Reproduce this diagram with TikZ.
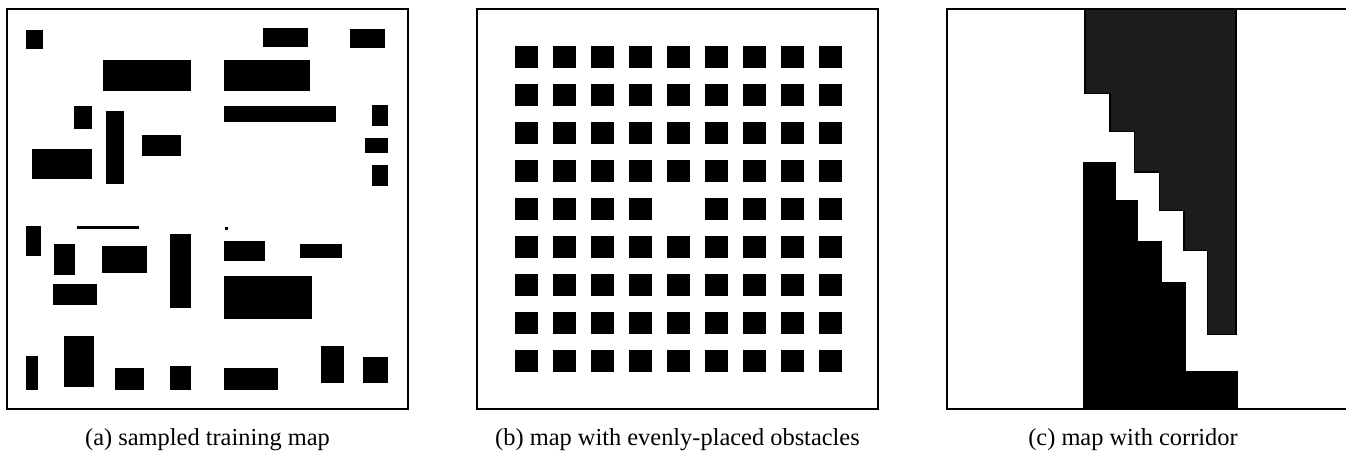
\documentclass[tikz,border=0pt]{standalone}
\usepackage{fontspec}
\setmainfont{Liberation Serif}
\usepackage{xcolor}
\usepackage{tikz}
\usetikzlibrary{positioning}
\definecolor{darkobst}{HTML}{1C1C1C}

\begin{document}
\begin{tikzpicture}[x=0.5pt, y=-0.5pt, font=\fontsize{12.2}{14}\selectfont,
  mapframe/.style={line width=1pt},
  obst/.style={fill=black},
  caption/.style={anchor=base, inner sep=0pt}]
  \useasboundingbox (0,0) rectangle (1346,451);

  % (a) zufaellig erzeugte Karte
  \draw[mapframe] (7,9) rectangle (408,409);
  \foreach \xa/\ya/\xb/\yb in {
      26.3/29.7/43.3/49.3, 262.7/28.3/307.7/47.3, 350.3/29/385/48.3,
      103.3/60/191.3/91, 223.7/60/310.3/91,
      74/106/92.3/128.7, 105.7/111/123.7/183.7, 223.7/106.3/336/121.7,
      371.7/105.3/388.3/126, 142/134.7/180.7/156.3, 32.3/148.7/92/179,
      364.7/137.7/388.3/152.7, 371.7/164.7/388.3/185.7,
      26.3/225.7/41.3/255.7, 77/225.7/139/229.3, 224.5/227/227.5/230.3,
      53.7/243.7/75.3/274.7, 101.7/246/146.7/273.3, 169.7/234.3/191/308.3,
      223.7/241.3/265/260.7, 300.3/243.7/342.3/258.3, 53.3/284/97/304.7,
      223.7/276.3/312.3/318.7, 63.7/335.7/93.7/387.3, 26.3/356/38.3/390,
      114.7/367.7/143.7/390, 170/366.3/191/390, 223.7/368.3/277.7/390,
      321.3/345.7/344.3/383.3, 363/356.7/388.3/382.7}
    \fill[obst] (\xa,\ya) rectangle (\xb,\yb);

  % (b) gleichmaessig verteilte Hindernisse
  \draw[mapframe] (477,9) rectangle (878,409);
  \foreach \i in {0,...,8}
    \foreach \j in {0,...,8} {
      \ifnum\i=4 \ifnum\j=4 \else
        \fill[obst] ({515+38*\i},{45.7+38*\j}) rectangle ++(22.6,22.6);
      \fi \else
        \fill[obst] ({515+38*\i},{45.7+38*\j}) rectangle ++(22.6,22.6);
      \fi
    }

  % (c) Korridor
  \draw[mapframe] (947,9) rectangle (1350,409);
  \draw[fill=darkobst, line width=0.6pt] (1085,9) -- (1085,93.7) -- (1110,93.7)
    -- (1110,131.3) -- (1134.3,131.3) -- (1134.3,172) -- (1159.3,172)
    -- (1159.3,210.3) -- (1184,210.3) -- (1184,250.3) -- (1207.3,250.3)
    -- (1207.3,334.3) -- (1236,334.3) -- (1236,9) -- cycle;
  \draw[fill=black, line width=0.6pt] (1083.7,409) -- (1083.7,163) -- (1115.7,163)
    -- (1115.7,200.3) -- (1137.3,200.3) -- (1137.3,241.3) -- (1161.7,241.3)
    -- (1161.7,283) -- (1185.7,283) -- (1185.7,372) -- (1237.3,372)
    -- (1237.3,409) -- cycle;
  \draw[mapframe] (947,409) -- (1350,409);

  % Bildunterschriften
  \node[caption] (capa) at (207.5,445) {(a) sampled training map};
  \node[caption] (capb) at (677.5,445) {(b) map with evenly-placed obstacles};
  \node[caption] (capc) at (1133,445) {(c) map with corridor};
\end{tikzpicture}
\end{document}
